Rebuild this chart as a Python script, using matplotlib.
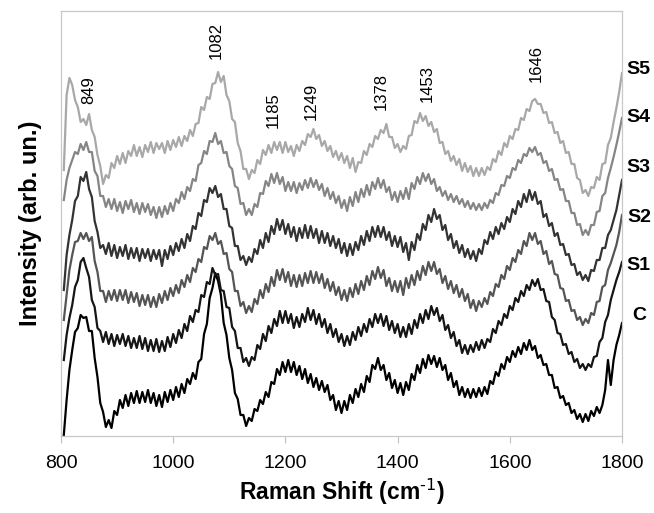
import numpy as np
import matplotlib
matplotlib.use("Agg")
import matplotlib.pyplot as plt
import matplotlib.transforms as mtransforms

plt.rcParams['font.family'] = ['Liberation Sans', 'DejaVu Sans']
plt.rcParams['mathtext.default'] = 'regular'

# ===========================
# Data (Raman shift, cm-1) - one value every 5 cm-1 from 805 to 1800
# ===========================
shift = np.arange(805, 1801, 5)

s5 = [266, 341, 358, 351, 336, 329, 314, 317, 311, 322,
      306, 299, 281, 270, 252, 261, 258, 273, 268, 280,
      272, 283, 273, 285, 280, 291, 280, 289, 279, 291,
      284, 294, 283, 293, 287, 293, 283, 295, 286, 296,
      289, 299, 290, 300, 295, 306, 300, 312, 313, 329,
      326, 339, 337, 352, 353, 364, 354, 360, 341, 335,
      317, 314, 293, 285, 267, 267, 257, 266, 263, 276,
      272, 286, 281, 291, 283, 294, 286, 294, 283, 294,
      284, 290, 280, 291, 285, 295, 291, 302, 299, 307,
      297, 301, 290, 295, 285, 290, 279, 285, 276, 283,
      273, 280, 268, 278, 264, 274, 273, 285, 281, 292,
      289, 300, 297, 306, 303, 312, 299, 299, 288, 292,
      284, 290, 287, 300, 301, 315, 313, 323, 315, 320,
      310, 314, 304, 307, 293, 294, 282, 285, 275, 280,
      271, 277, 265, 273, 264, 270, 260, 268, 260, 268,
      261, 269, 266, 277, 274, 285, 281, 293, 289, 300,
      297, 307, 306, 318, 316, 327, 325, 335, 337, 332,
      332, 323, 324, 313, 314, 303, 304, 293, 295, 283,
      284, 272, 272, 258, 256, 243, 246, 240, 249, 248,
      259, 256, 272, 273, 291, 298, 314, 328, 344, 363]

s4 = [236, 256, 268, 276, 284, 282, 292, 286, 294, 284,
      284, 265, 260, 240, 240, 229, 237, 227, 237, 225,
      234, 223, 235, 227, 236, 224, 233, 222, 233, 224,
      232, 221, 229, 218, 229, 219, 230, 222, 233, 225,
      237, 233, 244, 237, 249, 245, 257, 255, 271, 273,
      285, 282, 295, 294, 303, 292, 295, 283, 284, 270,
      267, 250, 248, 232, 233, 221, 227, 221, 232, 229,
      243, 242, 255, 250, 262, 253, 263, 252, 259, 245,
      254, 245, 254, 243, 253, 246, 256, 248, 258, 249,
      256, 246, 252, 240, 248, 237, 244, 233, 240, 228,
      236, 225, 239, 230, 244, 234, 247, 239, 251, 241,
      254, 247, 258, 248, 256, 244, 249, 236, 244, 234,
      245, 237, 248, 237, 253, 247, 259, 252, 263, 255,
      262, 252, 257, 245, 249, 240, 245, 236, 242, 234,
      240, 232, 237, 229, 235, 227, 233, 226, 232, 226,
      233, 228, 236, 233, 243, 241, 251, 250, 260, 258,
      268, 266, 276, 273, 282, 280, 288, 284, 289, 281,
      283, 273, 275, 265, 267, 256, 257, 246, 247, 235,
      235, 223, 223, 211, 212, 201, 206, 201, 211, 211,
      224, 225, 240, 243, 258, 268, 279, 291, 304, 318]

s3 = [146, 181, 201, 216, 235, 240, 259, 255, 264, 247,
      239, 215, 204, 188, 191, 182, 193, 180, 191, 178,
      189, 180, 191, 177, 188, 178, 188, 175, 187, 178,
      187, 175, 186, 177, 186, 170, 186, 177, 190, 181,
      193, 185, 197, 188, 202, 195, 210, 207, 223, 220,
      236, 234, 248, 243, 250, 239, 242, 227, 227, 210,
      208, 190, 190, 176, 180, 171, 179, 174, 187, 182,
      196, 188, 203, 194, 210, 202, 217, 206, 216, 202,
      212, 199, 209, 195, 208, 198, 211, 198, 210, 198,
      207, 193, 205, 193, 203, 190, 200, 188, 197, 183,
      193, 180, 192, 181, 194, 186, 200, 191, 205, 195,
      209, 199, 210, 199, 209, 196, 204, 190, 200, 189,
      199, 184, 193, 176, 194, 186, 202, 196, 212, 206,
      221, 214, 227, 217, 221, 206, 211, 196, 202, 188,
      195, 183, 191, 179, 187, 177, 185, 175, 187, 182,
      196, 192, 204, 197, 209, 202, 213, 207, 219, 214,
      227, 222, 235, 229, 242, 234, 246, 236, 244, 232,
      235, 219, 222, 210, 213, 200, 203, 191, 192, 181,
      182, 171, 172, 161, 164, 156, 161, 155, 166, 165,
      176, 176, 188, 188, 201, 206, 216, 226, 241, 256]

s2 = [116, 141, 166, 181, 194, 195, 203, 197, 203, 195,
      199, 175, 164, 145, 145, 134, 145, 136, 146, 135,
      146, 136, 146, 133, 144, 134, 143, 130, 141, 131,
      141, 129, 139, 129, 142, 133, 145, 136, 148, 140,
      151, 143, 156, 149, 161, 154, 168, 164, 177, 174,
      189, 187, 200, 196, 203, 192, 195, 182, 183, 167,
      164, 145, 145, 130, 134, 123, 130, 124, 137, 132,
      146, 138, 152, 144, 159, 150, 166, 156, 167, 154,
      164, 150, 161, 149, 161, 150, 163, 153, 165, 153,
      164, 153, 162, 148, 157, 145, 154, 141, 149, 136,
      146, 135, 148, 139, 152, 142, 155, 146, 160, 151,
      165, 157, 169, 158, 166, 150, 158, 145, 155, 144,
      155, 141, 158, 148, 161, 151, 165, 156, 170, 161,
      174, 165, 174, 162, 167, 153, 160, 147, 155, 143,
      151, 139, 147, 135, 142, 128, 136, 125, 135, 129,
      138, 132, 144, 140, 152, 149, 161, 157, 170, 166,
      178, 174, 186, 182, 195, 190, 203, 196, 203, 192,
      195, 182, 185, 172, 175, 162, 161, 148, 147, 135,
      136, 125, 126, 116, 119, 111, 117, 113, 123, 121,
      134, 135, 149, 151, 166, 173, 182, 191, 204, 221]

s1 = [76, 101, 118, 131, 149, 156, 174, 178, 168, 159,
      136, 129, 108, 105, 94, 104, 92, 102, 90, 101,
      92, 102, 90, 100, 88, 98, 88, 100, 87, 98,
      85, 96, 85, 97, 84, 95, 85, 99, 89, 102,
      93, 106, 98, 112, 105, 120, 114, 126, 124, 141,
      139, 154, 152, 168, 161, 162, 146, 145, 129, 128,
      109, 105, 88, 88, 74, 78, 70, 79, 76, 91,
      87, 102, 95, 110, 103, 117, 110, 125, 113, 125,
      113, 122, 108, 119, 109, 122, 114, 128, 116, 126,
      112, 122, 109, 117, 103, 112, 99, 107, 94, 102,
      90, 100, 91, 104, 96, 109, 100, 112, 104, 117,
      109, 122, 113, 122, 110, 120, 106, 115, 103, 112,
      99, 109, 99, 112, 102, 116, 108, 122, 113, 126,
      117, 130, 121, 128, 115, 121, 106, 111, 98, 104,
      90, 96, 83, 91, 82, 91, 84, 94, 86, 96,
      88, 97, 94, 107, 103, 115, 111, 122, 118, 130,
      126, 138, 134, 145, 140, 151, 146, 156, 150, 157,
      146, 147, 135, 134, 119, 116, 103, 102, 91, 92,
      82, 84, 74, 77, 68, 72, 66, 72, 69, 79,
      80, 94, 98, 114, 121, 136, 146, 156, 164, 174]

c = [1, 36, 66, 86, 104, 108, 121, 118, 119, 105,
     105, 78, 59, 33, 24, 9, 16, 8, 25, 21,
     36, 28, 41, 30, 43, 33, 45, 33, 44, 34,
     46, 33, 43, 30, 41, 29, 44, 34, 46, 36,
     49, 39, 52, 43, 57, 52, 63, 57, 74, 77,
     102, 112, 138, 148, 163, 155, 141, 113, 101, 78,
     66, 43, 37, 21, 21, 10, 18, 15, 27, 25,
     36, 32, 44, 39, 54, 52, 67, 61, 74, 64,
     76, 64, 74, 61, 70, 57, 67, 53, 62, 49,
     58, 46, 55, 44, 51, 36, 41, 26, 35, 23,
     35, 26, 41, 33, 47, 39, 52, 44, 60, 54,
     71, 67, 78, 66, 71, 56, 63, 48, 56, 43,
     53, 41, 54, 46, 62, 56, 71, 63, 77, 68,
     81, 72, 80, 69, 78, 66, 71, 56, 63, 49,
     55, 41, 49, 39, 47, 38, 47, 39, 48, 40,
     49, 42, 55, 52, 64, 60, 72, 67, 79, 74,
     85, 79, 89, 82, 93, 86, 96, 86, 90, 78,
     81, 71, 72, 61, 61, 48, 49, 38, 40, 31,
     33, 23, 26, 17, 22, 14, 22, 15, 25, 20,
     29, 23, 31, 46, 76, 51, 76, 91, 101, 113]

series_names = ['C', 'S1', 'S2', 'S3', 'S4', 'S5']
series_vals = [c, s1, s2, s3, s4, s5]
series_colors = ['#000000', '#151515', '#555555', '#333333', '#858585', '#a8a8a8']
name_y = [120, 171, 219, 268, 318, 367]

# peak labels: text, x (cm-1), y (arb.)
peaks = ['849', '1082', '1185', '1249', '1378', '1453', '1646']
peak_x = [850, 1076, 1178, 1246, 1370, 1452, 1647]
peak_y = [346, 396, 326, 335, 345, 353, 372]

# ===========================
# Graficar
# ===========================
fig = plt.figure(figsize=(6.54, 5.13), dpi=100)
ax = fig.add_axes([61 / 654, 77 / 513, 561 / 654, 425 / 513])

for vals, col in zip(series_vals, series_colors):
    ax.plot(shift, vals, color=col, lw=1.6)

for t, px, py in zip(peaks, peak_x, peak_y):
    ax.text(px, py, t, rotation=90, ha='center', va='center', fontsize=12)

trans = mtransforms.blended_transform_factory(ax.transAxes, ax.transData)
for name, ny in zip(series_names, name_y):
    ax.text(1.030, ny, name, transform=trans, ha='center', va='center',
            fontsize=14, fontweight='bold', clip_on=False)

ax.set_xlim(800, 1800)
ax.set_ylim(0, 425)
ax.set_xticks([800, 1000, 1200, 1400, 1600, 1800])
ax.set_yticks([])
ax.tick_params(axis='x', direction='out', length=5, color='#c0c0c0',
               labelsize=14, pad=9)
for sp in ax.spines.values():
    sp.set_color('#c8c8c8')
    sp.set_linewidth(0.9)

ax.set_xlabel(r'Raman Shift (cm$^{\text{-1}}$)', fontsize=16.5, fontweight='bold', labelpad=3)
ax.set_ylabel('Intensity (arb. un.)', fontsize=17, fontweight='bold', labelpad=14)

fig.savefig('out.png', dpi=100)
